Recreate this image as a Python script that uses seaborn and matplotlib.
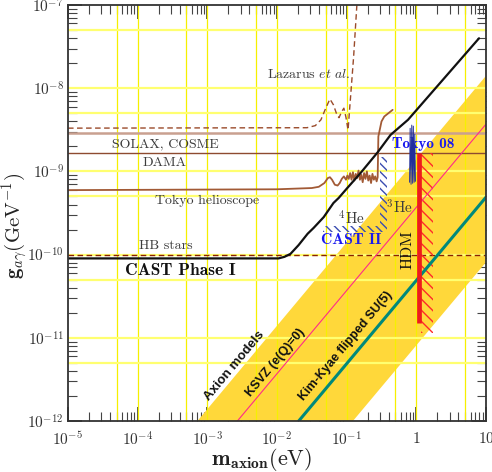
import numpy as np
import pandas as pd
import matplotlib
matplotlib.use("Agg")
import matplotlib.pyplot as plt
import seaborn as sns
from matplotlib.ticker import FixedLocator, FixedFormatter, NullFormatter
from matplotlib.patches import Polygon

# ---------------- data ----------------
x_ticks = [1e-5, 1e-4, 1e-3, 1e-2, 1e-1, 1, 10]
x_tick_labels = [r"$10^{-5}$", r"$10^{-4}$", r"$10^{-3}$", r"$10^{-2}$",
                 r"$10^{-1}$", r"$1$", r"$10$"]
y_ticks = [1e-12, 1e-11, 1e-10, 1e-9, 1e-8, 1e-7]
y_tick_labels = [r"$10^{-12}$", r"$10^{-11}$", r"$10^{-10}$", r"$10^{-9}$",
                 r"$10^{-8}$", r"$10^{-7}$"]
grid_m = [5e-5, 1e-4, 5e-4, 1e-3, 5e-3, 1e-2, 5e-2, 1e-1, 5e-1, 1, 5]
grid_g = [5e-12, 1e-11, 5e-11, 1e-10, 5e-10, 1e-9, 5e-9, 1e-8, 5e-8]

# Axion model band (corner points where its edges meet the frame)
band_m = [7.2e-4, 10, 10, 0.123]
band_g = [1e-12, 1.41e-8, 8.1e-11, 1e-12]
# KSVZ (E/N=0) line
ksvz_m = [2.7e-3, 10]
ksvz_g = [1e-12, 3.7e-9]
# Kim-Kyae flipped SU(5) line
kk_m = [2.05e-2, 10]
kk_g = [1e-12, 4.9e-10]

# CAST limit (Phase I + CAST II)
cast_m = [1e-5, 0.0105, 0.0128, 0.0156, 0.0204, 0.0275, 0.0335, 0.0468,
          0.0646, 0.0767, 0.102, 0.158, 0.279, 0.427, 0.759, 7.94]
cast_g = [9.0e-11, 9.0e-11, 9.4e-11, 1.02e-10, 1.30e-10, 1.78e-10, 2.09e-10,
          2.82e-10, 4.17e-10, 4.79e-10, 6.31e-10, 9.55e-10, 1.70e-9,
          2.75e-9, 4.17e-9, 3.98e-8]

# Lazarus et al.
laz_m = [1e-5, 0.0269, 0.0355, 0.0427, 0.0501, 0.0575, 0.0646, 0.0724,
         0.0776, 0.0851, 0.0912, 0.0977, 0.1047, 0.1122, 0.1259, 0.1413]
laz_g = [3.31e-9, 3.35e-9, 3.55e-9, 4.17e-9, 5.75e-9, 7.41e-9, 6.31e-9,
         4.79e-9, 4.42e-9, 5.25e-9, 5.75e-9, 4.47e-9, 3.16e-9, 6.76e-9,
         2.40e-8, 1.12e-7]

# Tokyo helioscope (log10 values)
tokyo_log10_m = [-5, -2.0, -1.5, -1.40, -1.32, -1.27, -1.24, -1.21, -1.17,
                 -1.13, -1.10, -1.07, -1.04, -1.01, -0.99, -0.97, -0.95,
                 -0.93, -0.91, -0.89, -0.87, -0.85, -0.83, -0.81, -0.79,
                 -0.77, -0.75, -0.73, -0.71, -0.69, -0.67, -0.65, -0.63,
                 -0.61, -0.59, -0.57, -0.555, -0.545, -0.50, -0.46, -0.34]
tokyo_log10_g = [-9.225, -9.215, -9.20, -9.185, -9.14, -9.08, -9.07, -9.10,
                 -9.16, -9.17, -9.14, -9.09, -9.06, -9.10, -9.05, -9.09,
                 -9.02, -9.10, -9.01, -9.11, -9.03, -9.08, -8.99, -9.10,
                 -9.04, -9.13, -9.02, -9.09, -9.00, -9.11, -9.05, -9.14,
                 -9.03, -9.10, -9.06, -9.12, -9.07, -8.58, -8.40, -8.34,
                 -8.26]

# Horizontal limits
solax_g = 2.9e-9
dama_g = 1.66e-9
hb_g = 1.0e-10

# Tokyo 08 (narrow exclusion spikes)
t08_m = [0.80, 0.815, 0.84, 0.86, 0.885, 0.905, 0.93, 0.95, 0.97]
t08_g = [7.4e-10, 3.3e-9, 7.0e-10, 3.6e-9, 7.2e-10, 3.5e-9, 7.4e-10,
         2.8e-9, 7.6e-10]

# CAST II hatched boundary (4He + 3He), L-shaped strip
cast2_m = [0.045, 0.377, 0.377, 0.2985, 0.2985, 0.045]
cast2_g = [1.87e-10, 1.87e-10, 1.49e-9, 1.49e-9, 2.21e-10, 2.21e-10]

# HDM bound
hdm_m = 1.09
hdm_g = [1.5e-11, 1.66e-9]
hdm_hatch_m = [1.16, 1.73, 1.73, 1.16]
hdm_hatch_g = [1.15e-11, 1.15e-11, 1.66e-9, 1.66e-9]

# ---------------- style ----------------
sns.set_style("ticks")
plt.rcParams['mathtext.fontset'] = 'cm'
plt.rcParams['font.family'] = ['cmr10', 'DejaVu Serif']
plt.rcParams['axes.formatter.use_mathtext'] = True
plt.rcParams['hatch.linewidth'] = 1.0

W, H = 492, 472
fig = plt.figure(figsize=(W / 100, H / 100), dpi=100)
ax = fig.add_axes([68 / W, 1 - 421 / H, 418 / W, 416 / H])
ax.set_xscale('log')
ax.set_yscale('log')
ax.set_xlim(1e-5, 10)
ax.set_ylim(1e-12, 1e-7)

# band
ax.fill(band_m, band_g, color='#ffd83a', lw=0, zorder=1)

# grid
for gm in grid_m:
    ax.axvline(gm, color='#f6f000', lw=0.9, zorder=1.5)
for gg in grid_g:
    ax.axhline(gg, color='#ffff70', lw=1.6, zorder=1.5)

# model lines
sns.lineplot(x=ksvz_m, y=ksvz_g, ax=ax, color='#ff2a8a', lw=0.8, zorder=3)
sns.lineplot(x=kk_m, y=kk_g, ax=ax, color='#00897b', lw=2.2, zorder=3)

# horizontal limits
ax.axhline(solax_g, color='#c9a090', lw=1.8, zorder=2)
ax.axhline(dama_g, color='#8e4b30', lw=1.0, zorder=2)
ax.axhline(hb_g, color='#8b2000', lw=1.0, ls=(0, (4, 2.5)), zorder=2)

# Lazarus
sns.lineplot(x=laz_m, y=laz_g, ax=ax, color='#9a4a2a', lw=1.0,
             linestyle=(0, (4, 2.5)), sort=False, estimator=None, zorder=2)

# Tokyo helioscope
tokyo_m = np.power(10.0, tokyo_log10_m)
tokyo_g = np.power(10.0, tokyo_log10_g)
sns.lineplot(x=tokyo_m, y=tokyo_g, ax=ax, color='#a25a35', lw=1.3,
             sort=False, estimator=None, zorder=2.1)

# CAST II hatch
ax.add_patch(Polygon(list(zip(cast2_m, cast2_g)), closed=True,
                     facecolor='none', edgecolor='#3a4cb0', lw=0,
                     hatch='\\\\\\\\', zorder=2.5))

# HDM
ax.add_patch(Polygon(list(zip(hdm_hatch_m, hdm_hatch_g)), closed=True,
                     facecolor='none', edgecolor='#ff2a2a', lw=0,
                     hatch='\\\\\\', zorder=2.5))
ax.vlines(hdm_m, hdm_g[0], hdm_g[1], color='#ee1c1c', lw=3.4, zorder=4)

# Tokyo 08
sns.lineplot(x=t08_m, y=t08_g, ax=ax, color='#22309a', lw=0.7,
             sort=False, estimator=None, zorder=3.5)

# CAST
sns.lineplot(x=cast_m, y=cast_g, ax=ax, color='#111111', lw=1.6,
             sort=False, estimator=None, zorder=4)

# ---------------- texts ----------------
gray = '#3c3c3c'
ax.text(0.0284, 1.45e-8, r"Lazarus $et\ al.$", fontsize=10, color=gray,
        ha='center', va='center')
ax.text(2.49e-4, 2.13e-9, "SOLAX, COSME", fontsize=10, color=gray,
        ha='center', va='center')
ax.text(2.4e-4, 1.26e-9, "DAMA", fontsize=10, color=gray,
        ha='center', va='center')
ax.text(1.0e-3, 4.4e-10, "Tokyo helioscope", fontsize=10, color=gray,
        ha='center', va='center')
ax.text(2.55e-4, 1.27e-10, "HB stars", fontsize=10, color=gray,
        ha='center', va='center')
ax.text(4.1e-4, 6.5e-11, "CAST Phase I", fontsize=12.5, color='#111111',
        family='cmb10', ha='center', va='center')
ax.text(0.118, 2.68e-10, r"$^4\mathrm{He}$", fontsize=11, color=gray,
        ha='center', va='center')
ax.text(0.58, 3.63e-10, r"$^3\mathrm{He}$", fontsize=11, color=gray,
        ha='center', va='center')
ax.text(0.117, 1.5e-10, "CAST II", fontsize=11.3, color='#1a1aee',
        family='cmb10', ha='center', va='center')
ax.text(1.24, 2.13e-9, "Tokyo 08", fontsize=11, color='#1a1aee',
        family='cmb10', ha='center', va='center')
ax.text(0.745, 1.15e-10, "HDM", fontsize=11.5, color='#111111',
        rotation=90, ha='center', va='center')

ang = 50.1
ax.text(2.45e-3, 4.6e-12, "Axion models", fontsize=9.5, color='#111111',
        family='Liberation Sans', weight='bold', rotation=ang,
        rotation_mode='anchor', ha='center', va='center')
ax.text(9.5e-3, 5.0e-12, "KSVZ (e(Q)=0)", fontsize=9, color='#111111',
        family='Liberation Sans', weight='bold', rotation=ang,
        rotation_mode='anchor', ha='center', va='center')
ax.text(9.8e-2, 7.9e-12, "Kim-Kyae flipped SU(5)", fontsize=9,
        color='#111111', family='Liberation Sans', weight='bold',
        rotation=ang, rotation_mode='anchor', ha='center', va='center')

# ---------------- axes ----------------
ax.xaxis.set_major_locator(FixedLocator(x_ticks))
ax.xaxis.set_major_formatter(FixedFormatter(x_tick_labels))
ax.yaxis.set_major_locator(FixedLocator(y_ticks))
ax.yaxis.set_major_formatter(FixedFormatter(y_tick_labels))
ax.xaxis.set_minor_formatter(NullFormatter())
ax.yaxis.set_minor_formatter(NullFormatter())
ax.tick_params(which='both', direction='in', top=True, right=True,
               colors='#444444', labelcolor='#333333')
ax.tick_params(which='major', length=10, width=1.3, labelsize=11)
ax.tick_params(axis='x', which='major', pad=7)
ax.tick_params(axis='y', which='major', pad=3)
ax.tick_params(which='minor', length=6.5, width=0.8)
for sp in ax.spines.values():
    sp.set_color('#333333')
    sp.set_linewidth(1.3)
    sp.set_zorder(5)

ax.text(0.462, -0.092, r"$\mathbf{m}_{\mathbf{axion}}\mathrm{(eV)}$",
        transform=ax.transAxes, fontsize=16, color='#222222',
        ha='center', va='center')
ax.text(-0.128, 0.47, r"$\mathbf{g}_{a\gamma}\mathrm{(GeV^{-1})}$",
        transform=ax.transAxes, fontsize=15, color='#222222',
        rotation=90, ha='center', va='center')

fig.savefig("out.png", dpi=100)
